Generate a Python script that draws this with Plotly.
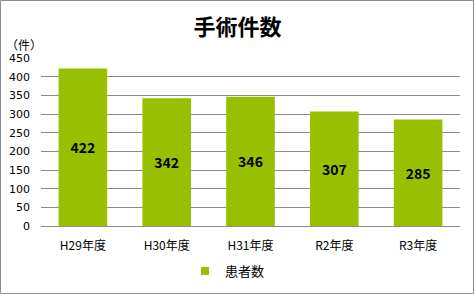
import plotly.graph_objects as go

categories = ["H29年度", "H30年度", "H31年度", "R2年度", "R3年度"]
values = [422, 342, 346, 307, 285]
series_name = "患者数"
y_ticks = [0, 50, 100, 150, 200, 250, 300, 350, 400, 450]

W, H = 475, 294
L, R, T, B = 41, 15, 58, 68
pw, ph = W - L - R, H - T - B
BAR_COLOR = "#99C000"

def px_x(px):
    return (px - L) / pw

def px_y(py):
    return (H - B - py) / ph

font = "Noto Sans CJK JP, Noto Sans, sans-serif"

fig = go.Figure()
fig.add_trace(go.Bar(
    x=categories, y=values, name=series_name,
    marker=dict(color=BAR_COLOR, line=dict(width=0)),
    text=[str(v) for v in values], textposition="inside",
    insidetextanchor="middle",
    textfont=dict(family=font, size=14, color="#000000", weight="bold"),
    showlegend=False,
))
# legend entry with a small square symbol
fig.add_trace(go.Scatter(
    x=[None], y=[None], mode="markers", name=series_name,
    marker=dict(symbol="square", size=8, color=BAR_COLOR),
    showlegend=True,
))

fig.update_layout(
    width=W, height=H,
    margin=dict(l=L, r=R, t=T, b=B, autoexpand=False),
    paper_bgcolor="white", plot_bgcolor="white",
    bargap=0.42,
    font=dict(family=font, size=11, color="#000000"),
    title=dict(text="<b>手術件数</b>", x=0.5, xanchor="center", y=1 - 27 / H, yanchor="middle",
               font=dict(family=font, size=22, color="#000000")),
    xaxis=dict(showgrid=False, showline=True, linecolor="#8c8c8c", linewidth=1,
               ticks="", tickfont=dict(size=12), ticklabelstandoff=9),
    yaxis=dict(range=[0, 450], tickvals=y_ticks, showgrid=True, gridcolor="#8c8c8c",
               gridwidth=1, zeroline=False, showline=False, ticks="",
               tickfont=dict(family="DejaVu Sans, sans-serif", size=11), ticklabelstandoff=10),
    legend=dict(orientation="h", x=185 / W, xanchor="left", xref="container",
                y=1 - 271 / H, yanchor="middle", yref="container",
                font=dict(size=13), itemwidth=30, bgcolor="rgba(0,0,0,0)"),
    showlegend=True,
)

fig.add_annotation(text="（件）", xref="paper", yref="paper", x=px_x(4), y=px_y(44),
                   xanchor="left", yanchor="middle", showarrow=False,
                   font=dict(family=font, size=12, color="#000000"))

fig.add_shape(type="rect", xref="paper", yref="paper",
              x0=px_x(0.5), x1=px_x(473.5), y0=px_y(293.5), y1=px_y(0.5),
              line=dict(color="#8c8c8c", width=1), layer="above")

fig.write_html("out.html")
